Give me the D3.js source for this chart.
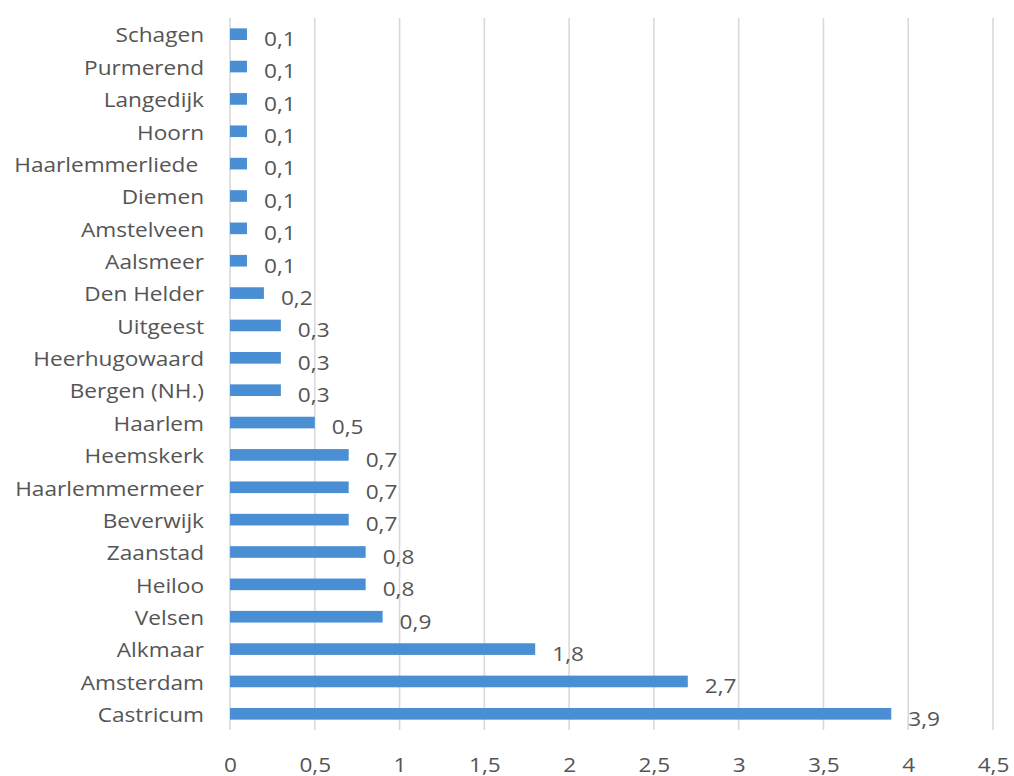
<!DOCTYPE html>
<html><head><meta charset="utf-8">
<script src="https://cdn.jsdelivr.net/npm/d3@7/dist/d3.min.js"></script>
<style>body{margin:0;background:#fff}svg{display:block}text{white-space:pre}</style>
</head><body>
<script>
const categories = ["Schagen","Purmerend","Langedijk","Hoorn","Haarlemmerliede ","Diemen","Amstelveen","Aalsmeer","Den Helder","Uitgeest","Heerhugowaard","Bergen (NH.)","Haarlem","Heemskerk","Haarlemmermeer","Beverwijk","Zaanstad","Heiloo","Velsen","Alkmaar","Amsterdam","Castricum"];
const values = [0.1,0.1,0.1,0.1,0.1,0.1,0.1,0.1,0.2,0.3,0.3,0.3,0.5,0.7,0.7,0.7,0.8,0.8,0.9,1.8,2.7,3.9];
const ticks = [0,0.5,1,1.5,2,2.5,3,3.5,4,4.5];

const W=1014,H=776;
const svg=d3.select("body").append("svg").attr("width",W).attr("height",H);
const m={left:230,top:18,bottom:730,right:993};
const x=d3.scaleLinear().domain([0,4.5]).range([m.left,m.right]);
const y=d3.scaleBand().domain(categories).range([m.top,m.bottom]).paddingInner(0.64).paddingOuter(0.32);
const fmt=v=>String(v).replace(".",",");
const font="'Open Sans', sans-serif";
const col="#555555";
const FS=19.5, SX=1.16;

svg.append("g").selectAll("line").data(ticks).join("line")
  .attr("x1",d=>x(d)).attr("x2",d=>x(d)).attr("y1",m.top).attr("y2",m.bottom)
  .attr("stroke","#d9d9d9").attr("stroke-width",1.6);

// x axis
const xa=d3.axisBottom(x).tickValues(ticks).tickFormat(fmt).tickSize(0).tickPadding(0);
const gx=svg.append("g").attr("transform","translate(0,758)").call(xa);
gx.select(".domain").remove();
gx.selectAll("text").attr("font-family",font).attr("font-size",FS).attr("fill",col)
  .attr("transform",`scale(${SX},1)`);

// y axis
const ya=d3.axisLeft(y).tickSize(0).tickPadding(26/SX);
const gy=svg.append("g").attr("transform",`translate(${m.left},2)`).call(ya);
gy.select(".domain").remove();
gy.selectAll("text").attr("font-family",font).attr("font-size",FS).attr("fill",col)
  .attr("transform",`scale(${SX},1)`);

svg.append("g").selectAll("rect").data(values).join("rect")
  .attr("x",x(0)).attr("y",(d,i)=>y(categories[i]))
  .attr("width",d=>x(d)-x(0)).attr("height",y.bandwidth())
  .attr("fill","#4a8fd4");

svg.append("g").selectAll("text").data(values).join("text")
  .attr("transform",(d,i)=>`translate(${x(d)+17},${y(categories[i])+y.bandwidth()/2+5}) scale(${SX},1)`)
  .attr("dy","0.35em").attr("font-family",font).attr("font-size",FS).attr("fill",col)
  .text(fmt);
</script>
</body></html>
